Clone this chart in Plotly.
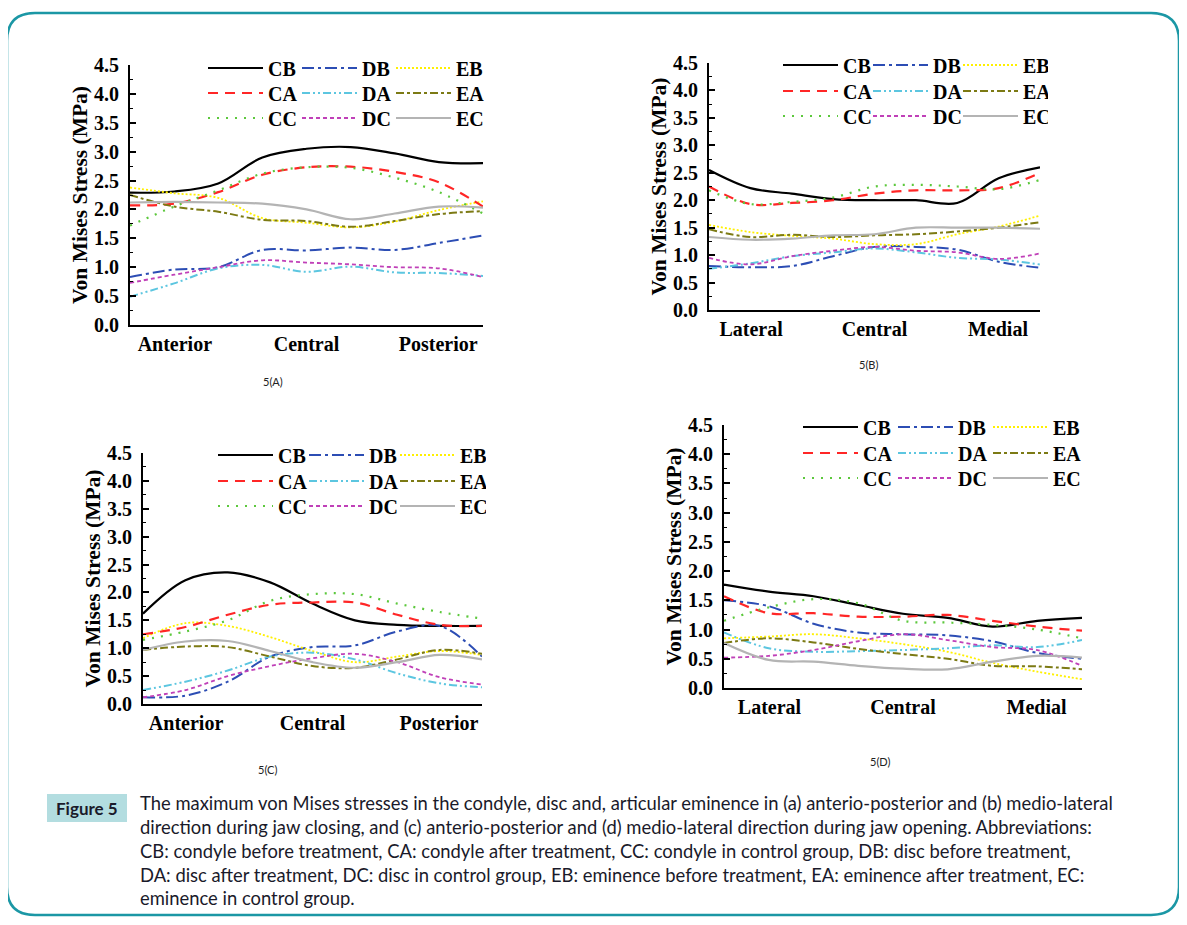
import plotly.graph_objects as go

# target screen size and the page's body margin
SW, SH = 1187, 925
OX, OY = 8, 8
W, H = SW - 2 * OX, SH - 2 * OY

# ---------------- data ----------------
x_pos = [0, 0.125, 0.25, 0.375, 0.5, 0.625, 0.75, 0.875, 1.0]
series = ["CB", "DB", "EB", "CA", "DA", "EA", "CC", "DC", "EC"]

ap_labels = ["Anterior", "Central", "Posterior"]
ml_labels = ["Lateral", "Central", "Medial"]
label_pos = [0.127, 0.5, 0.873]
y_ticks = [0.0, 0.5, 1.0, 1.5, 2.0, 2.5, 3.0, 3.5, 4.0, 4.5]

# Panel 5(A): anterio-posterior, jaw closing
A_CB = [2.29, 2.31, 2.45, 2.90, 3.05, 3.08, 2.97, 2.82, 2.80]
A_CA = [2.07, 2.10, 2.30, 2.60, 2.73, 2.74, 2.65, 2.47, 2.05]
A_CC = [1.72, 2.05, 2.33, 2.62, 2.73, 2.72, 2.55, 2.30, 1.93]
A_DB = [0.83, 0.96, 1.00, 1.30, 1.29, 1.34, 1.30, 1.42, 1.55]
A_DA = [0.49, 0.72, 0.98, 1.04, 0.92, 1.01, 0.91, 0.90, 0.85]
A_DC = [0.73, 0.87, 1.00, 1.12, 1.08, 1.05, 1.00, 0.98, 0.83]
A_EB = [2.38, 2.28, 2.20, 1.85, 1.77, 1.69, 1.79, 1.99, 2.14]
A_EA = [2.25, 2.05, 1.96, 1.82, 1.80, 1.70, 1.80, 1.92, 1.97]
A_EC = [2.12, 2.13, 2.12, 2.10, 2.00, 1.83, 1.93, 2.05, 2.03]

# Panel 5(B): medio-lateral, jaw closing
B_CB = [2.55, 2.22, 2.12, 2.02, 2.00, 2.00, 1.95, 2.40, 2.60]
B_CA = [2.25, 1.93, 1.95, 2.00, 2.12, 2.18, 2.18, 2.22, 2.50]
B_CC = [2.18, 1.93, 1.97, 2.05, 2.25, 2.28, 2.25, 2.20, 2.37]
B_DB = [0.80, 0.78, 0.80, 0.98, 1.15, 1.15, 1.10, 0.88, 0.77]
B_DA = [0.75, 0.85, 0.98, 1.05, 1.12, 1.05, 0.95, 0.92, 0.83]
B_DC = [0.95, 0.83, 0.98, 1.08, 1.15, 1.08, 1.05, 0.93, 1.03]
B_EB = [1.55, 1.42, 1.35, 1.30, 1.20, 1.20, 1.38, 1.52, 1.72]
B_EA = [1.47, 1.33, 1.37, 1.33, 1.36, 1.38, 1.43, 1.50, 1.60]
B_EC = [1.33, 1.28, 1.30, 1.36, 1.38, 1.50, 1.50, 1.50, 1.48]

# Panel 5(C): anterio-posterior, jaw opening
C_CB = [1.62, 2.22, 2.36, 2.18, 1.80, 1.50, 1.42, 1.40, 1.40]
C_CA = [1.25, 1.38, 1.60, 1.78, 1.82, 1.82, 1.60, 1.42, 1.40]
C_CC = [1.15, 1.30, 1.50, 1.85, 1.97, 1.97, 1.80, 1.65, 1.53]
C_DB = [0.12, 0.15, 0.40, 0.85, 1.02, 1.05, 1.30, 1.40, 0.85]
C_DA = [0.25, 0.40, 0.60, 0.85, 0.92, 0.80, 0.55, 0.37, 0.30]
C_DC = [0.12, 0.25, 0.50, 0.68, 0.82, 0.90, 0.75, 0.48, 0.35]
C_EB = [1.18, 1.45, 1.40, 1.20, 0.95, 0.75, 0.85, 0.95, 0.88]
C_EA = [0.97, 1.03, 1.02, 0.85, 0.68, 0.65, 0.80, 0.97, 0.90]
C_EC = [0.97, 1.12, 1.13, 0.95, 0.75, 0.65, 0.75, 0.88, 0.80]

# Panel 5(D): medio-lateral, jaw opening
D_CB = [1.77, 1.65, 1.57, 1.42, 1.27, 1.20, 1.05, 1.15, 1.20]
D_CA = [1.57, 1.28, 1.28, 1.22, 1.22, 1.25, 1.15, 1.05, 0.98]
D_CC = [1.15, 1.38, 1.52, 1.45, 1.15, 1.12, 1.08, 1.00, 0.85]
D_DB = [1.50, 1.40, 1.10, 0.95, 0.92, 0.90, 0.80, 0.60, 0.50]
D_DA = [0.95, 0.68, 0.62, 0.63, 0.65, 0.68, 0.73, 0.70, 0.82]
D_DC = [0.52, 0.55, 0.65, 0.80, 0.92, 0.82, 0.70, 0.65, 0.38]
D_EB = [0.85, 0.88, 0.92, 0.85, 0.75, 0.62, 0.43, 0.28, 0.15]
D_EA = [0.77, 0.85, 0.78, 0.67, 0.58, 0.50, 0.38, 0.37, 0.32]
D_EC = [0.77, 0.48, 0.45, 0.38, 0.33, 0.32, 0.45, 0.55, 0.52]

panels_data = {
    "A": {"CB": A_CB, "CA": A_CA, "CC": A_CC, "DB": A_DB, "DA": A_DA, "DC": A_DC, "EB": A_EB, "EA": A_EA, "EC": A_EC},
    "B": {"CB": B_CB, "CA": B_CA, "CC": B_CC, "DB": B_DB, "DA": B_DA, "DC": B_DC, "EB": B_EB, "EA": B_EA, "EC": B_EC},
    "C": {"CB": C_CB, "CA": C_CA, "CC": C_CC, "DB": C_DB, "DA": C_DA, "DC": C_DC, "EB": C_EB, "EA": C_EA, "EC": C_EC},
    "D": {"CB": D_CB, "CA": D_CA, "CC": D_CC, "DB": D_DB, "DA": D_DA, "DC": D_DC, "EB": D_EB, "EA": D_EA, "EC": D_EC},
}

caption_lines = [
    "The maximum von Mises stresses in the condyle, disc and, articular eminence in (a) anterio-posterior and (b) medio-lateral",
    "direction during jaw closing, and (c) anterio-posterior and (d) medio-lateral direction during jaw opening. Abbreviations:",
    "CB: condyle before treatment, CA: condyle after treatment, CC: condyle in control group, DB: disc before treatment,",
    "DA: disc after treatment, DC: disc in control group, EB: eminence before treatment, EA: eminence after treatment, EC:",
    "eminence in control group.",
]

# ---------------- styles ----------------
styles = {
    "CB": dict(color="#000000", dash="solid", width=2.2),
    "CA": dict(color="#ff2626", dash="10px,7px", width=2.2),
    "CC": dict(color="#5cc83c", dash="2px,7px", width=2.2),
    "DB": dict(color="#2c4db4", dash="12px,4px,3px,4px", width=2.0),
    "DA": dict(color="#5cc6e0", dash="8px,3px,2px,3px,2px,3px", width=2.0),
    "DC": dict(color="#c040b8", dash="4px,3px", width=1.8),
    "EB": dict(color="#fff000", dash="2px,2px", width=1.8),
    "EA": dict(color="#7c7a14", dash="8px,3px,3px,3px", width=2.0),
    "EC": dict(color="#b4b4b4", dash="solid", width=2.2),
}
legend_row = {"B": 0, "A": 1, "C": 2}

def px_x(p):
    return (p - OX) / W

def px_y(p):
    return 1 - (p - OY) / H

# panel geometry in screen pixels
panels = [
    dict(key="A", ax="", x0=130, x1=483, y0=65, y1=325, lx=208, rows=[68, 93, 118], sp=94,
         labels=ap_labels, tag="5(A)", tagpos=(273, 381)),
    dict(key="B", ax="2", x0=709, x1=1040, y0=63, y1=310, lx=783, rows=[65, 91, 116], sp=90,
         labels=ml_labels, tag="5(B)", tagpos=(868, 364)),
    dict(key="C", ax="3", x0=143, x1=482, y0=453, y1=704, lx=218, rows=[455, 481, 506], sp=91,
         labels=ap_labels, tag="5(C)", tagpos=(267, 769)),
    dict(key="D", ax="4", x0=724, x1=1082, y0=425, y1=688, lx=803, rows=[427, 453, 478], sp=95,
         labels=ml_labels, tag="5(D)", tagpos=(880, 761)),
]

serif_bold = dict(family="Liberation Serif, Times New Roman, serif", size=20, color="#000000", weight="bold")
title_font = dict(family="Liberation Serif, Times New Roman, serif", size=21.5, color="#000000", weight="bold")

fig = go.Figure()
layout = dict(
    template="none",
    width=W, height=H, autosize=False,
    margin=dict(l=0, r=0, t=0, b=0, pad=0, autoexpand=False),
    paper_bgcolor="white", plot_bgcolor="white",
    showlegend=True,
    annotations=[], shapes=[],
)

legend_count = 0
ITEMW = 55
for p in panels:
    xa = "x" + p["ax"]
    ya = "y" + p["ax"]
    legend_ids = []
    for r in range(3):
        legend_count += 1
        lid = "legend" if legend_count == 1 else f"legend{legend_count}"
        legend_ids.append(lid)
        layout[lid] = dict(
            orientation="h",
            x=px_x(p["lx"] - 5), xanchor="left",
            y=px_y(p["rows"][r]), yanchor="middle",
            itemwidth=ITEMW,
            entrywidth=p["sp"] - ITEMW - 15, entrywidthmode="pixels",
            font=serif_bold,
            bgcolor="rgba(0,0,0,0)",
            borderwidth=0,
            tracegroupgap=0,
        )
    for s in series:
        st = styles[s]
        fig.add_trace(go.Scatter(
            x=x_pos, y=panels_data[p["key"]][s],
            mode="lines", name=s,
            line=dict(color=st["color"], dash=st["dash"], width=st["width"], shape="spline", smoothing=1.0),
            xaxis=xa, yaxis=ya,
            legend=legend_ids[legend_row[s[1]]],
            hoverinfo="skip",
        ))
    xname = "xaxis" + p["ax"]
    yname = "yaxis" + p["ax"]
    layout[xname] = dict(
        domain=[px_x(p["x0"]), px_x(p["x1"])],
        anchor=ya, range=[0, 1], automargin=False,
        showline=True, linecolor="black", linewidth=2,
        showgrid=False, zeroline=False, ticks="",
        tickmode="array", tickvals=label_pos, ticktext=p["labels"],
        tickfont=serif_bold, fixedrange=True,
    )
    layout[yname] = dict(
        domain=[px_y(p["y1"]), px_y(p["y0"])],
        anchor=xa, range=[0, 4.5], automargin=False,
        showline=True, linecolor="black", linewidth=2,
        showgrid=False, zeroline=False,
        tickmode="array", tickvals=y_ticks, ticktext=[f"{v:.1f}" for v in y_ticks],
        ticks="inside", ticklen=6, tickwidth=1.5, tickcolor="black",
        ticklabelstandoff=5,
        minor=dict(ticks="inside", ticklen=3, dtick=0.25, tickcolor="black", tickwidth=1.2),
        tickfont=serif_bold,
        title=dict(text="Von Mises Stress (MPa)", font=title_font, standoff=0),
        fixedrange=True,
    )
    layout["annotations"].append(dict(
        text=p["tag"], x=px_x(p["tagpos"][0]), y=px_y(p["tagpos"][1]),
        xref="paper", yref="paper", showarrow=False,
        font=dict(family="Lato, Open Sans, sans-serif", size=11, color="#222222"),
        xanchor="center", yanchor="middle",
    ))

# rounded frame
fx0, fy0, fx1, fy1, rr = 7, 13, 1179, 915, 28
path = (
    f"M {px_x(fx0 + rr)},{px_y(fy0)} L {px_x(fx1 - rr)},{px_y(fy0)} "
    f"Q {px_x(fx1)},{px_y(fy0)} {px_x(fx1)},{px_y(fy0 + rr)} "
    f"L {px_x(fx1)},{px_y(fy1 - rr)} Q {px_x(fx1)},{px_y(fy1)} {px_x(fx1 - rr)},{px_y(fy1)} "
    f"L {px_x(fx0 + rr)},{px_y(fy1)} Q {px_x(fx0)},{px_y(fy1)} {px_x(fx0)},{px_y(fy1 - rr)} "
    f"L {px_x(fx0)},{px_y(fy0 + rr)} Q {px_x(fx0)},{px_y(fy0)} {px_x(fx0 + rr)},{px_y(fy0)} Z"
)
layout["shapes"].append(dict(type="path", path=path, xref="paper", yref="paper",
                             line=dict(color="#1b97a5", width=2.5), layer="below"))

# "Figure 5" tag box
layout["shapes"].append(dict(type="rect", xref="paper", yref="paper",
                             x0=px_x(47), x1=px_x(127), y0=px_y(822), y1=px_y(794),
                             fillcolor="#b3dde0", line=dict(width=0), layer="below"))
layout["annotations"].append(dict(
    text="<b>Figure 5</b>", x=px_x(87), y=px_y(808), xref="paper", yref="paper",
    showarrow=False, xanchor="center", yanchor="middle",
    font=dict(family="Lato, sans-serif", size=17, color="#1a1a2a"),
))

cap_y = [803, 827, 851, 875, 898]
for line, yy in zip(caption_lines, cap_y):
    layout["annotations"].append(dict(
        text=line, x=px_x(138), y=px_y(yy), xref="paper", yref="paper",
        showarrow=False, xanchor="left", yanchor="middle",
        font=dict(family="Lato, sans-serif", size=18.4, color="#1a1a2a"),
    ))

fig.update_layout(**layout)
fig.write_html("out.html")
